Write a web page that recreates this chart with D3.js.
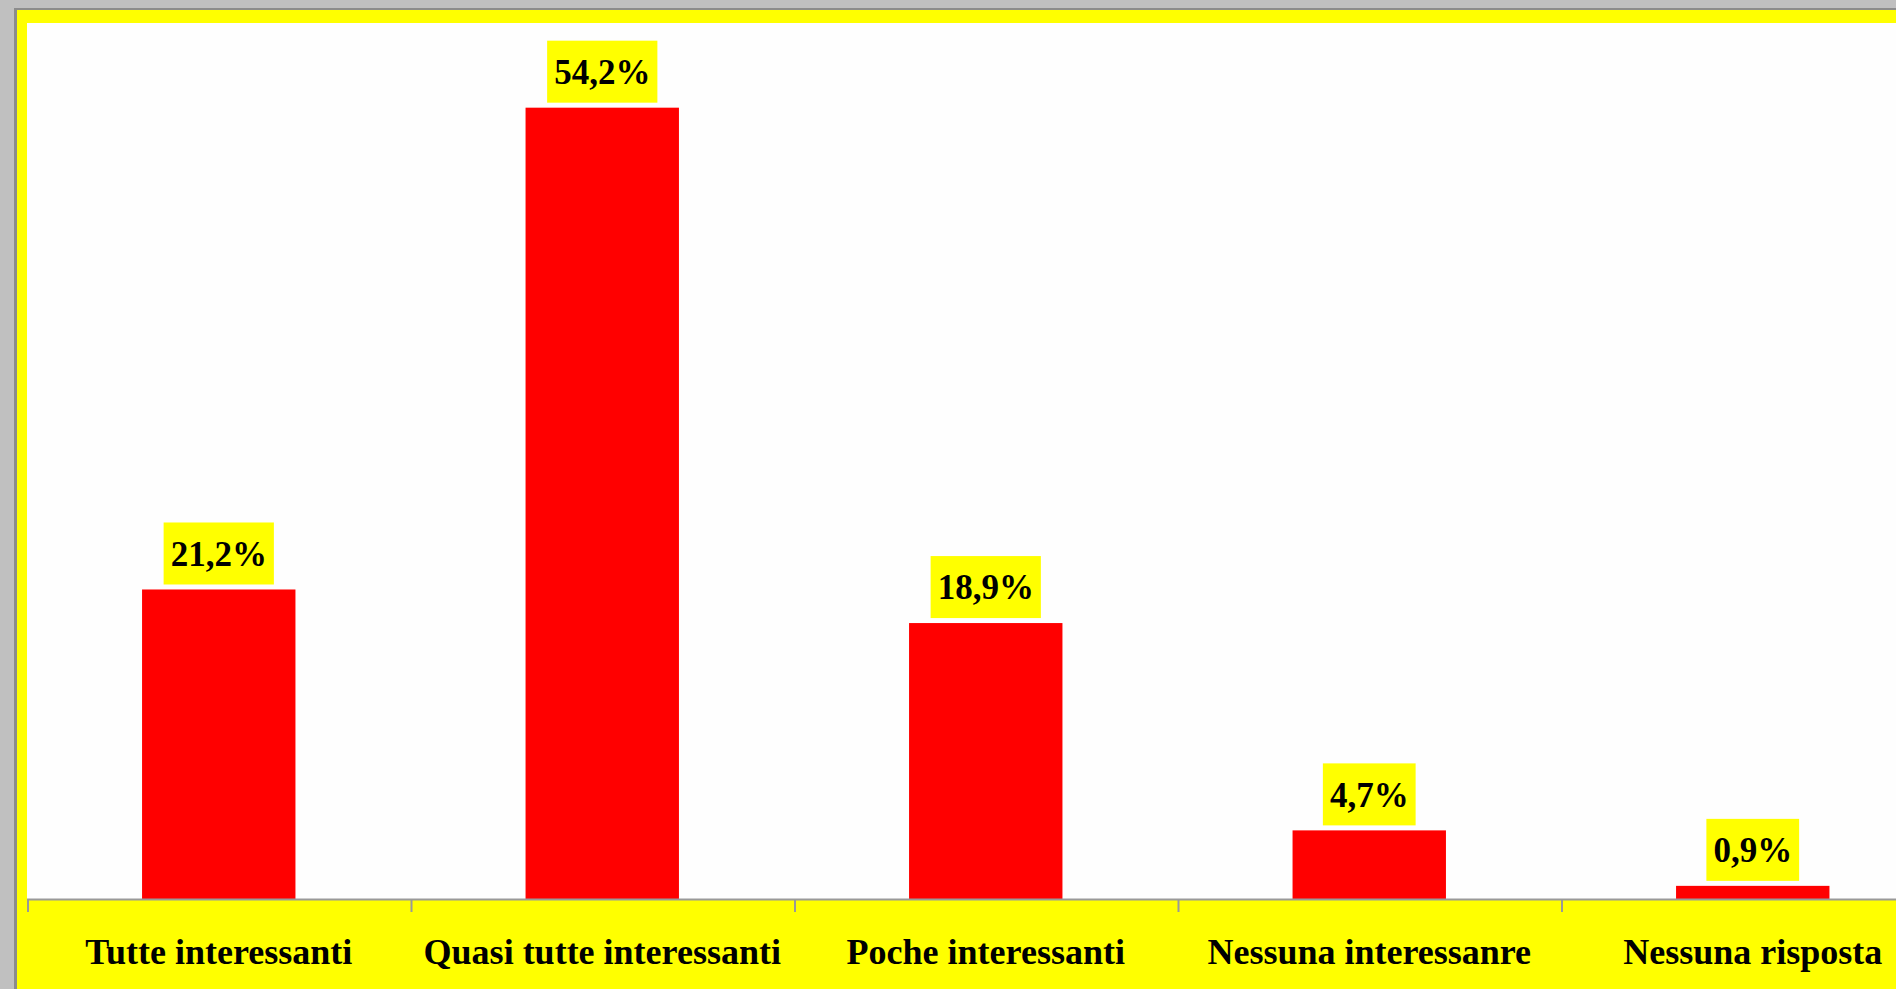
<!DOCTYPE html>
<html>
<head>
<meta charset="utf-8">
<script src="https://cdn.jsdelivr.net/npm/d3@7"></script>
<style>
  body { margin: 0; padding: 0; background: #c0c0c0; overflow: hidden; }
</style>
</head>
<body>
<div id="chart"></div>
<script>
// survey answers, percent values
const categories = ["Tutte interessanti", "Quasi tutte interessanti", "Poche interessanti", "Nessuna interessanre", "Nessuna risposta"];
const values = [21.2, 54.2, 18.9, 4.7, 0.9];
const labels = ["21,2%", "54,2%", "18,9%", "4,7%", "0,9%"];

const width = 1896, height = 989;
const plot = {left: 27, top: 23, bottom: 899, right: 1944.5};

const svg = d3.select("#chart")
    .append("svg")
    .attr("width", width)
    .attr("height", height)
    .style("display", "block");

// window background and frame
svg.append("rect")
    .attr("width", width)
    .attr("height", height)
    .attr("fill", "#c0c0c0");
svg.append("rect")
    .attr("x", 14)
    .attr("y", 8)
    .attr("width", width)
    .attr("height", height)
    .attr("fill", "#8c8c8c");
svg.append("rect")
    .attr("x", 17)
    .attr("y", 10)
    .attr("width", width)
    .attr("height", height)
    .attr("fill", "#ffff00");
svg.append("rect")
    .attr("x", plot.left)
    .attr("y", plot.top)
    .attr("width", width - plot.left)
    .attr("height", plot.bottom - plot.top)
    .attr("fill", "#fefefe");

const x = d3.scaleBand()
    .domain(categories)
    .range([plot.left, plot.right])
    .paddingInner(0.6)
    .paddingOuter(0.3);

const y = d3.scaleLinear()
    .domain([0, 60])
    .range([plot.bottom, plot.top]);

const data = categories.map((c, i) => ({cat: c, value: values[i], label: labels[i]}));

// bars
svg.selectAll(".bar")
    .data(data)
    .enter()
    .append("rect")
    .attr("class", "bar")
    .attr("x", d => x(d.cat))
    .attr("y", d => y(d.value))
    .attr("width", x.bandwidth())
    .attr("height", d => y(0) - y(d.value))
    .attr("fill", "#ff0000");

// axis line and ticks at category boundaries
svg.append("line")
    .attr("x1", plot.left)
    .attr("x2", width)
    .attr("y1", y(0) + 0.5)
    .attr("y2", y(0) + 0.5)
    .attr("stroke", "#999999")
    .attr("stroke-width", 2);

const gap = (x.step() - x.bandwidth()) / 2;
svg.selectAll(".tick-line")
    .data(categories)
    .enter()
    .append("line")
    .attr("x1", d => x(d) - gap + 1)
    .attr("x2", d => x(d) - gap + 1)
    .attr("y1", y(0))
    .attr("y2", y(0) + 13)
    .attr("stroke", "#999999")
    .attr("stroke-width", 2);

// category labels
const xAxis = svg.append("g")
    .attr("transform", `translate(0,${y(0)})`)
    .call(d3.axisBottom(x).tickSize(0).tickPadding(39));
xAxis.select(".domain").remove();
xAxis.selectAll("text")
    .attr("fill", "#000")
    .style("font-family", "'Liberation Serif', 'Times New Roman', serif")
    .style("font-weight", "bold")
    .style("font-size", "36px");

// value labels with yellow boxes
const valueGroups = svg.selectAll(".value")
    .data(data)
    .enter()
    .append("g")
    .attr("class", "value")
    .attr("transform", d => `translate(${x(d.cat) + x.bandwidth() / 2},${y(d.value) - 36})`);

valueGroups.append("text")
    .attr("text-anchor", "middle")
    .attr("dy", "0.35em")
    .style("font-family", "'Liberation Serif', 'Times New Roman', serif")
    .style("font-weight", "bold")
    .style("font-size", "35px")
    .attr("fill", "#000")
    .text(d => d.label);

valueGroups.insert("rect", "text")
    .attr("x", function() {
        const w = this.parentNode.querySelector("text").getComputedTextLength();
        return -w / 2 - 7;
    })
    .attr("y", -31)
    .attr("width", function() {
        return this.parentNode.querySelector("text").getComputedTextLength() + 14;
    })
    .attr("height", 62)
    .attr("fill", "#ffff00");
</script>
</body>
</html>
